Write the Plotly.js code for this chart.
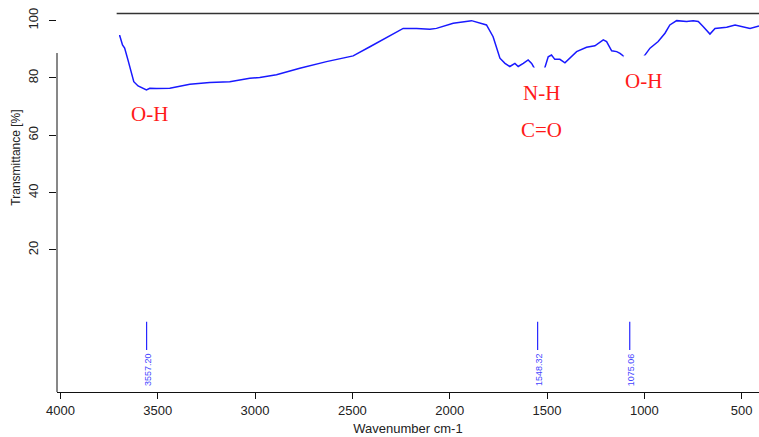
<!DOCTYPE html>
<html>
<head>
<meta charset="utf-8">
<script src="https://cdn.plot.ly/plotly-3.0.1.min.js"></script>
<style>html,body{margin:0;padding:0;background:#fff;}#chart{width:759px;height:437px;}</style>
</head>
<body>
<div id="chart"></div>
<script>
// Spectrum (wavenumber cm-1, transmittance %)
var wavenumber = [3699,3695,3681,3670,3653,3635,3623,3601,3575,3558,3541,3507,3438,3335,3233,3130,3027,2976,2890,2770,2633,2496,2410,2325,2239,2170,2102,
  2068,1982,1888,1845,1811,1777,1759,1742,1716,1691,1665,1648,1622,1597,1579,1562,1548,1514,1494,1477,1460,1434,1408,1383,1348,1297,1254,
  1211,1194,1168,1142,1125,1103,1075,1006,971,929,894,869,834,783,749,723,697,663,637,577,534,492,457,411];
var transmittance = [94.7,94.7,91.5,90.4,86.3,81.6,78.7,77.2,76.4,75.8,76.4,76.3,76.4,77.8,78.4,78.7,79.9,80.2,81.1,83.4,85.7,87.7,90.9,94.2,97.3,97.3,97.0,
  97.3,99.1,100.0,99.1,98.5,94.4,90.9,86.9,85.1,84.0,85.1,84.0,85.1,86.3,85.1,83.0,80.0,83.0,87.4,88.0,86.5,86.5,85.3,86.9,89.2,90.7,91.2,
  93.3,92.7,89.5,89.2,88.6,87.4,85.0,87.2,90.4,92.7,95.6,98.5,100.0,99.7,100.0,99.7,97.9,95.3,97.3,97.7,98.5,97.9,97.3,98.1];

// Peak picks
var peaks = [3557.20, 1548.32, 1075.06];
var peakLabels = ["3557.20", "1548.32", "1075.06"];

// Axis ticks
var xTicks = [4000, 3500, 3000, 2500, 2000, 1500, 1000, 500];
var yTicks = [20, 40, 60, 80, 100];

// Band assignments
var bandLabels = ["O-H", "N-H", "C=O", "O-H"];

var peakX = [], peakY = [];
peaks.forEach(function (p) { peakX.push(p, p, null); peakY.push(-5, -14.9, null); });

var traces = [
  {x: wavenumber, y: transmittance, type: 'scatter', mode: 'lines',
   line: {color: 'rgb(25,25,255)', width: 1.5}, hoverinfo: 'skip'},
  {x: peakX, y: peakY, type: 'scatter', mode: 'lines',
   line: {color: 'rgb(40,40,255)', width: 1.2}, hoverinfo: 'skip'}
];

var annotations = [];
peaks.forEach(function (p, i) {
  annotations.push({x: p, y: -21.7, xref: 'x', yref: 'y', text: peakLabels[i], showarrow: false,
    textangle: -90, xanchor: 'center', yanchor: 'middle', xshift: 1,
    font: {family: 'Liberation Sans, Arial', size: 9, color: 'rgb(70,70,255)'}});
});
var redFont = {family: 'Liberation Serif, Times New Roman, serif', size: 21, color: '#ff1a1a'};
annotations.push({x: 3541, y: 67.4, xref: 'x', yref: 'y', text: bandLabels[0], showarrow: false,
  xanchor: 'center', yanchor: 'middle', font: redFont});
annotations.push({x: 1530, y: 69.8, xref: 'x', yref: 'y', text: bandLabels[1], showarrow: false,
  xanchor: 'center', yanchor: 'bottom', height: 36, valign: 'bottom', bgcolor: '#ffffff', borderpad: 1, font: redFont});
annotations.push({x: 1526, y: 61.9, xref: 'x', yref: 'y', text: bandLabels[2], showarrow: false,
  xanchor: 'center', yanchor: 'middle', font: redFont});
annotations.push({x: 1006, y: 73.9, xref: 'x', yref: 'y', text: bandLabels[3], showarrow: false,
  xanchor: 'center', yanchor: 'bottom', height: 36, valign: 'bottom', bgcolor: '#ffffff', borderpad: 1, font: redFont});
annotations.push({x: -0.058, y: 52.3, xref: 'paper', yref: 'y', text: 'Transmittance [%]', showarrow: false,
  textangle: -90, xanchor: 'center', yanchor: 'middle',
  font: {family: 'Liberation Sans, Arial', size: 12, color: '#222'}});

var layout = {
  width: 759, height: 437,
  margin: {l: 57, r: 0, t: 0, b: 45, pad: 0},
  paper_bgcolor: '#fff', plot_bgcolor: '#fff',
  showlegend: false,
  font: {family: 'Liberation Sans, Arial', size: 13, color: '#222'},
  xaxis: {range: [4017.5, 411], tickvals: xTicks, ticktext: xTicks.map(String),
    showgrid: false, zeroline: false, showline: true, linecolor: '#111', linewidth: 1,
    ticks: 'outside', ticklen: 6, tickcolor: '#111', tickfont: {size: 13, color: '#222'},
    title: {text: 'Wavenumber cm-1', font: {size: 13, color: '#222'}, standoff: 7}},
  yaxis: {range: [-29.55, 107.2], tickvals: yTicks, ticktext: yTicks.map(String),
    showgrid: false, zeroline: false, showline: false,
    ticks: 'outside', ticklen: 7, tickcolor: '#111', tickangle: -90, ticklabelstandoff: 6,
    tickfont: {size: 13, color: '#222'}},
  shapes: [
    {type: 'line', xref: 'x', yref: 'y', x0: 3711, x1: 411, y0: 102.5, y1: 102.5,
     line: {color: '#333', width: 1.5}},
    {type: 'line', xref: 'paper', yref: 'y', x0: 0, x1: 0, y0: 88.7, y1: -29.55,
     line: {color: '#111', width: 1}}
  ],
  annotations: annotations
};

Plotly.newPlot('chart', traces, layout, {displayModeBar: false, staticPlot: true});
</script>
</body>
</html>
